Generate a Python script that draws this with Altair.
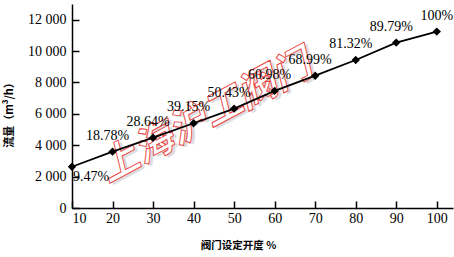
import altair as alt
import pandas as pd

opening = [10, 20, 30, 40, 50, 60, 70, 80, 90, 100]
flow = [2630, 3590, 4480, 5400, 6330, 7460, 8430, 9430, 10540, 11240]
pct_labels = ["9.47%", "18.78%", "28.64%", "39.15%", "50.43%", "60.98%",
              "68.99%", "81.32%", "89.79%", "100%"]
y_label_values = [0, 2000, 4000, 6000, 8000, 10000, 12000]
watermark_text = ["上海沪工阀门"]
watermark_pos_x = [43]
watermark_pos_y = [5800]

df = pd.DataFrame({"opening": opening, "flow": flow, "pct": pct_labels})
wm = pd.DataFrame({"opening": watermark_pos_x, "flow": watermark_pos_y, "t": watermark_text})

xs = alt.Scale(domain=[10, 104], nice=False, zero=False)
ys = alt.Scale(domain=[0, 13000], nice=False)

serif = "Liberation Serif, DejaVu Serif, serif"
cjk = "Noto Sans CJK SC"

inward = alt.ExprRef("-7")

x_axis = alt.Axis(values=opening, ticks=True, tickSize=inward, tickColor="black",
                  tickWidth=1.5, grid=False, labelPadding=10,
                  labelOverlap=False,
                  title="阀门设定开度  %", titleFont=cjk, titleFontSize=10.5,
                  titleFontWeight="bold", titleColor="black",
                  titleX=166, titleY=37, titleAlign="center", titleBaseline="middle")
y_axis = alt.Axis(values=y_label_values, ticks=True, tickSize=inward, tickColor="black",
                  tickWidth=1.5, grid=False, labelPadding=13,
                  labelOverlap=False,
                  labelExpr="replace(format(datum.value, ',d'), ',', ' ')",
                  title="流量（m³/h）", titleFont=cjk, titleFontSize=11,
                  titleFontWeight="bold", titleColor="black",
                  titleAngle=270, titleX=-63, titleY=108,
                  titleAlign="center", titleBaseline="middle")

shadow = alt.Chart(wm).mark_text(
    angle=332, fontSize=39, font=cjk, fontWeight="bold", fontStyle="italic",
    color="#cfcfcf", opacity=0.7, dx=2, dy=3
).encode(x=alt.X("opening:Q", scale=xs, axis=x_axis),
         y=alt.Y("flow:Q", scale=ys, axis=y_axis), text="t:N")

watermark = alt.Chart(wm).mark_text(
    angle=332, fontSize=39, font=cjk, fontWeight="bold", fontStyle="italic",
    fill="white", stroke="#e8403c", strokeWidth=0.9
).encode(x=alt.X("opening:Q", scale=xs, axis=x_axis),
         y=alt.Y("flow:Q", scale=ys, axis=y_axis), text="t:N")

base = alt.Chart(df).encode(x=alt.X("opening:Q", scale=xs, axis=x_axis),
                            y=alt.Y("flow:Q", scale=ys, axis=y_axis))
line = base.mark_line(color="black", strokeWidth=1.8)
points = base.mark_point(shape="diamond", filled=True, color="black", size=70, opacity=1)

txt_kw = dict(font=serif, fontSize=14, color="black", baseline="middle", align="center")
lab_mid = base.transform_filter("datum.opening > 10 && datum.opening < 100").mark_text(
    dx=-5, dy=-16, **txt_kw).encode(text="pct:N")
lab_first = base.transform_filter("datum.opening == 10").mark_text(
    dx=19, dy=10, **txt_kw).encode(text="pct:N")
lab_last = base.transform_filter("datum.opening == 100").mark_text(
    dx=0, dy=-16, **txt_kw).encode(text="pct:N")

chart = alt.layer(shadow, watermark, line, points,
                  lab_mid, lab_first, lab_last).properties(
    width=381, height=204,
    autosize=alt.AutoSizeParams(type="none"),
    padding={"left": 72, "top": 4, "right": 1, "bottom": 49},
    background="white"
).configure_view(stroke=None).configure_axis(
    labelOverlap=False, labelFont=serif, labelFontSize=14, labelColor="black",
    domainColor="black", domainWidth=1.5, grid=False
)

chart.save("out.html", embed_options={"renderer": "svg", "actions": False})
